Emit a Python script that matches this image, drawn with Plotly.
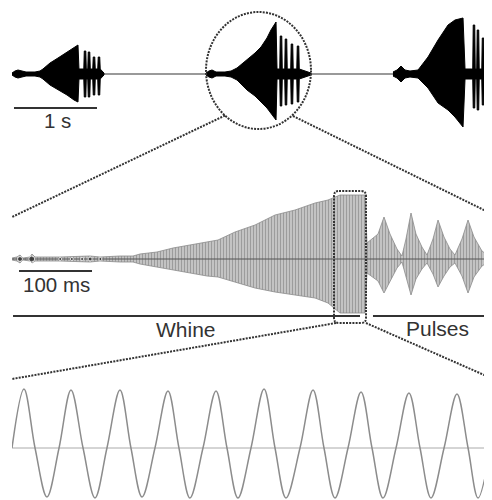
import plotly.graph_objects as go

# page body has an 8px margin: the figure is sized to fill the rest of the 492x500 window
OFF = 8
W, H = 492 - OFF, 500 - OFF

# ---------------- TOP PANEL: three calls (time in s, amplitude in a.u.) ----------------
call1_t = [0.000, 0.036, 0.072, 0.120, 0.169, 0.277, 0.337, 0.373, 0.458, 0.554, 0.663, 0.747, 0.795, 0.807, 0.860,
           0.865, 0.871, 0.889, 0.895, 0.910, 0.913, 0.919, 0.937, 0.943, 0.958,
           0.973, 0.979, 0.997, 1.003, 1.018, 1.033, 1.039, 1.057, 1.063, 1.084, 1.108]
call1_up = [1, 3, 4, 3, 2, 2, 3, 5, 11, 16, 22, 27, 29, 5, 5,
            5, 23, 23, 5, 5, 5, 22, 22, 5, 5,
            5, 17, 17, 5, 5, 5, 17, 17, 5, 3, 1]
call1_lo = [1, 3, 4, 3, 2, 2, 3, 5, 11, 16, 21, 26, 28, 5, 5,
            5, 23, 23, 5, 5, 5, 23, 23, 5, 5,
            5, 21, 21, 5, 5, 5, 21, 21, 5, 3, 1]

call2_t = [2.337, 2.373, 2.410, 2.458, 2.566, 2.639, 2.711, 2.831, 2.928, 3.000, 3.072, 3.120, 3.181, 3.193, 3.220,
           3.226, 3.232, 3.250, 3.256, 3.280, 3.286, 3.292, 3.310, 3.316, 3.340,
           3.358, 3.364, 3.382, 3.388, 3.410, 3.431, 3.437, 3.455, 3.461, 3.530, 3.602]
call2_up = [1, 3, 4, 2, 2, 3, 6, 14, 21, 27, 36, 44, 52, 5, 5,
            5, 38, 38, 5, 5, 5, 35, 35, 5, 5,
            5, 30, 30, 5, 5, 5, 28, 28, 5, 3, 1]
call2_lo = [1, 3, 4, 2, 2, 3, 6, 16, 22, 28, 34, 39, 46, 5, 5,
            5, 32, 32, 5, 5, 5, 31, 31, 5, 5,
            5, 30, 30, 5, 5, 5, 28, 28, 5, 3, 1]

call3_t = [4.590, 4.639, 4.687, 4.735, 4.795, 4.892, 5.012, 5.133, 5.253, 5.337, 5.434, 5.458, 5.540,
           5.551, 5.557, 5.575, 5.581, 5.590, 5.599, 5.605, 5.623, 5.629, 5.645,
           5.660, 5.666, 5.684, 5.690, 5.705, 5.720, 5.726, 5.744, 5.750, 5.759]
call3_up = [2, 4, 8, 4, 3, 4, 17, 34, 49, 54, 56, 5, 5,
            5, 49, 49, 5, 5, 5, 44, 44, 5, 5,
            5, 36, 36, 5, 5, 5, 36, 36, 5, 5]
call3_lo = [2, 4, 8, 4, 3, 4, 14, 29, 36, 43, 53, 5, 5,
            5, 34, 34, 5, 5, 5, 36, 36, 5, 5,
            5, 31, 31, 5, 5, 5, 31, 31, 5, 5]

TOP_RANGE_S = [0, 5.759]

# ---------------- MIDDLE PANEL: one call (time in ms) ----------------
mid_t = [0, 6.8, 11.0, 15.1, 24.7, 27.4, 31.5, 65.8, 106.8, 120.5, 147.9, 165.8, 175.3, 198.6, 220.5, 243.8,
         267.1, 282.2, 305.5, 332.9, 360.3, 387.7, 415.1, 432.9, 449.3, 483.6, 486.3, 501.4, 509.6, 517.8,
         527.4, 534.2, 539.7, 546.6, 553.4, 561.6, 568.5, 576.7, 583.6, 591.8, 600.0, 606.8, 616.4, 624.7,
         632.9, 643.8, 654.8]
mid_up = [1, 2, 4, 1, 2, 5, 2, 2, 3, 2, 3, 3, 5, 7, 11, 14,
          17, 19, 27, 34, 44, 49, 56, 59, 64, 64, 16, 25, 42, 25,
          10, 3, 20, 46, 25, 12, 4, 20, 39, 22, 10, 4, 20, 39,
          22, 8, 2]
mid_lo = [1, 2, 4, 1, 2, 4, 2, 2, 3, 2, 3, 3, 5, 8, 11, 14,
          17, 18, 23, 29, 33, 36, 39, 44, 54, 54, 14, 22, 34, 22,
          9, 3, 16, 36, 20, 10, 4, 15, 28, 17, 8, 4, 17, 34,
          18, 7, 2]
noise_t = [11, 27, 66, 82, 96, 107, 121]
noise_size = [5, 6, 3, 3, 3, 4, 3]
MID_RANGE_MS = [0, 654.8]

# ---------------- BOTTOM PANEL: ten cycles (time in ms) ----------------
wave_t = [0, 1.10, 2.12, 3.22, 4.33, 5.43, 6.54, 7.64, 8.74, 9.94, 10.95, 11.97, 13.16, 14.36, 15.37, 16.38,
          17.58, 18.78, 19.79, 20.80, 22.00, 23.20, 24.21, 25.22, 26.51, 27.71, 28.72, 29.73, 30.93, 32.13,
          33.14, 34.15, 35.35, 36.54, 37.56, 38.57, 39.77, 40.96, 41.98, 42.90, 44.00]
wave_amp = [0, 59, 0, -49, 0, 58, 0, -50, 0, 58, 0, -49, 0, 57, 0, -50,
            0, 57, 0, -50, 0, 59, 0, -50, 0, 58, 0, -50, 0, 56,
            0, -50, 0, 55, 0, -50, 0, 54, 0, -50, -3]
BOT_RANGE_MS = [0, 44]

# ---------------- figure ----------------
def px(x):
    return (x - OFF) / W


def py(y):
    return 1 - (y - OFF) / H


XDOM = [px(12), px(490)]

fig = go.Figure()


def envelope(t, up, lo):
    xs = list(t) + list(t[::-1])
    ys = list(up) + [-v for v in lo[::-1]]
    return xs, ys


# top panel baseline
fig.add_trace(go.Scatter(x=TOP_RANGE_S, y=[0, 0], mode="lines", line=dict(color="#777", width=1.4),
                         xaxis="x", yaxis="y", hoverinfo="skip"))
for t, u, l in [(call1_t, call1_up, call1_lo), (call2_t, call2_up, call2_lo), (call3_t, call3_up, call3_lo)]:
    xs, ys = envelope(t, u, l)
    fig.add_trace(go.Scatter(x=xs, y=ys, mode="lines", fill="toself", fillcolor="#000",
                             line=dict(color="#000", width=1), xaxis="x", yaxis="y", hoverinfo="skip"))

# middle panel
xs, ys = envelope(mid_t, mid_up, mid_lo)
fig.add_trace(go.Scatter(x=xs, y=ys, mode="lines", fill="toself",
                         fillcolor="#bdbdbd",
                         fillpattern=dict(shape="|", fgcolor="#6e6e6e", bgcolor="#cacaca", size=3, solidity=0.45),
                         line=dict(color="#8a8a8a", width=0.8), xaxis="x2", yaxis="y2", hoverinfo="skip"))
fig.add_trace(go.Scatter(x=MID_RANGE_MS, y=[0, 0], mode="lines", line=dict(color="#555", width=1),
                         xaxis="x2", yaxis="y2", hoverinfo="skip"))
fig.add_trace(go.Scatter(x=noise_t, y=[0] * len(noise_t), mode="markers",
                         marker=dict(color="#222", size=noise_size), xaxis="x2", yaxis="y2", hoverinfo="skip"))

# bottom panel
fig.add_trace(go.Scatter(x=BOT_RANGE_MS, y=[0, 0], mode="lines", line=dict(color="#aaa", width=1),
                         xaxis="x3", yaxis="y3", hoverinfo="skip"))
fig.add_trace(go.Scatter(x=wave_t, y=wave_amp, mode="lines",
                         line=dict(color="#8c8c8c", width=1.5, shape="spline", smoothing=1.0),
                         xaxis="x3", yaxis="y3", hoverinfo="skip"))

ax = dict(visible=False, fixedrange=True)
fig.update_layout(
    width=W, height=H, margin=dict(l=0, r=0, t=0, b=0),
    paper_bgcolor="white", plot_bgcolor="white", showlegend=False,
    xaxis=dict(ax, domain=XDOM, range=TOP_RANGE_S, anchor="y"),
    yaxis=dict(ax, domain=[py(138), py(8)], range=[-64, 66], anchor="x"),
    xaxis2=dict(ax, domain=XDOM, range=MID_RANGE_MS, anchor="y2"),
    yaxis2=dict(ax, domain=[py(335), py(185)], range=[-76, 74], anchor="x2"),
    xaxis3=dict(ax, domain=XDOM, range=BOT_RANGE_MS, anchor="y3"),
    yaxis3=dict(ax, domain=[py(500), py(380)], range=[-52, 68], anchor="x3"),
)

DOT = dict(color="#333", width=2, dash="2px,1.2px")
shapes = []
# circle around the middle call
shapes.append(dict(type="circle", xref="paper", yref="paper", x0=px(206), x1=px(311), y0=py(129), y1=py(12), line=DOT))
# connectors top -> middle
shapes.append(dict(type="line", xref="paper", yref="paper", x0=px(225), y0=py(115.5), x1=px(12), y1=py(217), line=DOT))
shapes.append(dict(type="line", xref="paper", yref="paper", x0=px(293), y0=py(116), x1=px(491), y1=py(213.5), line=DOT))
# rounded rectangle
x0, x1, y0, y1, r = 334, 366, 191, 323, 5
pts = [("M", x0 + r, y0), ("L", x1 - r, y0), ("Q", x1, y0, x1, y0 + r), ("L", x1, y1 - r), ("Q", x1, y1, x1 - r, y1),
       ("L", x0 + r, y1), ("Q", x0, y1, x0, y1 - r), ("L", x0, y0 + r), ("Q", x0, y0, x0 + r, y0)]
path = ""
for p in pts:
    if p[0] == "Q":
        path += f"Q {px(p[1]):.5f},{py(p[2]):.5f} {px(p[3]):.5f},{py(p[4]):.5f} "
    else:
        path += f"{p[0]} {px(p[1]):.5f},{py(p[2]):.5f} "
path += "Z"
shapes.append(dict(type="path", xref="paper", yref="paper", path=path, line=DOT))
# connectors middle -> bottom
shapes.append(dict(type="line", xref="paper", yref="paper", x0=px(336), y0=py(323), x1=px(12), y1=py(379), line=DOT))
shapes.append(dict(type="line", xref="paper", yref="paper", x0=px(366), y0=py(323), x1=px(491), y1=py(378), line=DOT))

BAR = dict(color="#333", width=2)
# scale bars (in data units)
shapes.append(dict(type="line", xref="x", yref="paper", x0=0.024, x1=1.024, y0=py(108), y1=py(108), line=BAR))
shapes.append(dict(type="line", xref="x2", yref="paper", x0=9.6, x1=109.6, y0=py(271), y1=py(271), line=BAR))
# whine / pulses bars
shapes.append(dict(type="line", xref="x2", yref="paper", x0=1.4, x1=476.7, y0=py(316), y1=py(316), line=BAR))
shapes.append(dict(type="line", xref="x2", yref="paper", x0=494.5, x1=648.0, y0=py(316), y1=py(316), line=BAR))
fig.update_layout(shapes=shapes)

FONT = "Liberation Sans, Arial, sans-serif"
ann = [
    ("1 s", 57, 120.5, 20.5),
    ("100 ms", 56, 284, 20.5),
    ("Whine", 186, 329.5, 21),
    ("Pulses", 437, 328.5, 21),
]
fig.update_layout(annotations=[
    dict(text=t, x=px(x), y=py(y), xref="paper", yref="paper", xanchor="center", yanchor="middle",
         showarrow=False, font=dict(family=FONT, size=s, color="#333"))
    for t, x, y, s in ann
])

fig.write_html("out.html")
